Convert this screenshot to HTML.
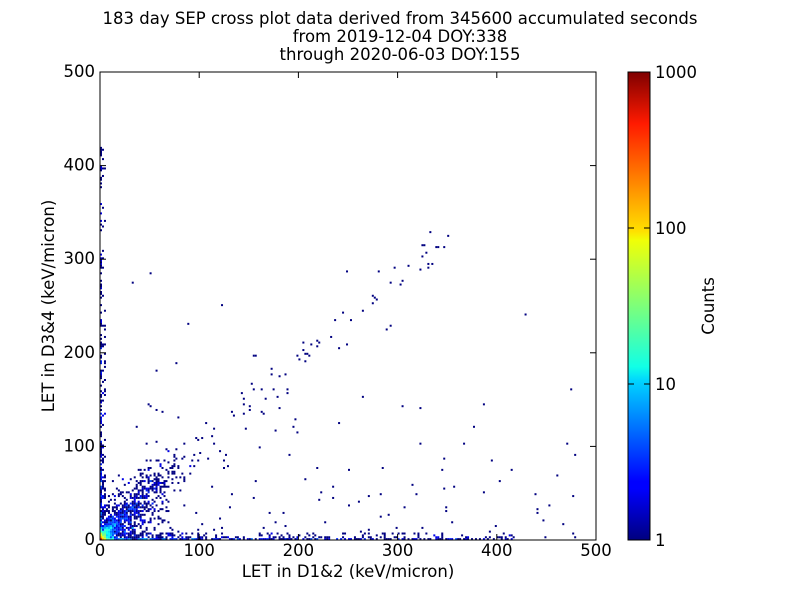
<!DOCTYPE html>
<html><head><meta charset="utf-8"><style>
body{margin:0;background:#fff;width:800px;height:600px;overflow:hidden}
svg text{font-family:"DejaVu Sans","Liberation Sans",sans-serif}
</style></head><body>
<svg id="s" width="800" height="600" xmlns="http://www.w3.org/2000/svg">
<defs><linearGradient id="jet" x1="0" y1="1" x2="0" y2="0">
<stop offset="0" stop-color="#00007f"/><stop offset="0.11" stop-color="#0000ff"/><stop offset="0.125" stop-color="#0000ff"/><stop offset="0.34" stop-color="#00d4ff"/><stop offset="0.37" stop-color="#11ffe6"/><stop offset="0.5" stop-color="#7dff7a"/><stop offset="0.64" stop-color="#f0ff07"/><stop offset="0.66" stop-color="#ffe000"/><stop offset="0.89" stop-color="#ff1a00"/><stop offset="1" stop-color="#7f0000"/></linearGradient></defs>
<text x="400" y="24" font-size="16.5" text-anchor="middle">183 day SEP cross plot data derived from 345600 accumulated seconds</text>
<text x="400" y="42" font-size="16.5" text-anchor="middle">from 2019-12-04 DOY:338</text>
<text x="400" y="60" font-size="16.5" text-anchor="middle">through 2020-06-03 DOY:155</text>
<g id="pts"></g>
<rect x="100" y="72" width="496" height="468" fill="none" stroke="#000" stroke-width="1"/>
<g id="ax" font-size="16.5"></g>
<text x="348" y="577" font-size="16.5" text-anchor="middle">LET in D1&amp;2 (keV/micron)</text>
<text transform="translate(54,306) rotate(-90)" font-size="16.5" text-anchor="middle">LET in D3&amp;4 (keV/micron)</text>
<rect x="628" y="72" width="22" height="468" fill="url(#jet)" stroke="#000"/>
<g font-size="16.5">
<text x="655" y="78">1000</text><text x="655" y="234">100</text><text x="655" y="390">10</text><text x="655" y="546">1</text>
<line x1="644" y1="228" x2="650" y2="228" stroke="#000"/><line x1="644" y1="384" x2="650" y2="384" stroke="#000"/>
<line x1="628" y1="228" x2="634" y2="228" stroke="#000"/><line x1="628" y1="384" x2="634" y2="384" stroke="#000"/>
</g>
<text transform="translate(714,306) rotate(-90)" font-size="16.5" text-anchor="middle">Counts</text>
</svg>
<script>
var ns="http://www.w3.org/2000/svg",ax=document.getElementById('ax'),pts=document.getElementById('pts');
function el(t,a,p){var e=document.createElementNS(ns,t);for(var k in a)if(k!='txt')e.setAttribute(k,a[k]);if(a.txt!==undefined)e.textContent=a.txt;p.appendChild(e);return e;}
for(var v=0;v<=500;v+=100){var x=100+v*0.992,y=540-v*0.936;
el('line',{x1:x,y1:540,x2:x,y2:534,stroke:'#000'},ax);el('line',{x1:x,y1:72,x2:x,y2:78,stroke:'#000'},ax);
el('line',{x1:100,y1:y,x2:106,y2:y,stroke:'#000'},ax);el('line',{x1:596,y1:y,x2:590,y2:y,stroke:'#000'},ax);
el('text',{x:x,y:556,'text-anchor':'middle',txt:v},ax);el('text',{x:95,y:y+5,'text-anchor':'end',txt:v},ax);}
var seed=11;function r(){seed=(seed*16807)%2147483647;return seed/2147483647;}
function jet(t){var f=function(x){return Math.max(0,Math.min(1,x));};var R=f(1.5-Math.abs(4*t-3)),G=f(1.5-Math.abs(4*t-2)),B=f(1.5-Math.abs(4*t-1));return 'rgb('+Math.round(R*255)+','+Math.round(G*255)+','+Math.round(B*255)+')';}
var cells={};function add(X,Y,c){if(X<0||Y<0||X>495||Y>498)return;var k=Math.floor(X/2)+','+Math.floor(Y/2);cells[k]=(cells[k]||0)+c;}
var i;
for(i=0;i<900;i++){var a=Math.pow(r(),1.8)*45;add(a*(0.3+r()*1.4),a*(0.3+r()*1.4),1);}
for(i=0;i<450;i++){var a=Math.pow(r(),1.6)*80;add(a*(0.7+r()*0.6),a*(0.7+r()*0.6)+r()*6,1);}
for(i=0;i<700;i++){add(Math.pow(r(),3)*420,Math.pow(r(),3)*8,1);}
for(i=0;i<450;i++){add(Math.pow(r(),3)*6,Math.pow(r(),3.5)*420,1);}
for(i=0;i<300;i++){add(Math.pow(r(),2)*14,Math.pow(r(),2)*14,1);}
for(i=0;i<70;i++){var a=100+r()*250;add(a+r()*30-15,a*0.93+r()*30-15,1);}
for(i=0;i<120;i++){add(r()*480,r()*480*r()*r(),1);}
for(i=0;i<40;i++){add(r()*200,r()*200,1);}
add(1,1,150);add(3,1,40);add(1,3,30);add(3,3,12);add(5,1,8);add(1,5,8);add(5,3,5);add(3,5,5);add(7,1,4);add(1,7,4);add(5,5,3);
for(var k in cells){var p=k.split(','),c=cells[k],t=Math.log(c)/Math.log(1000);t=Math.min(1,t);
el('rect',{x:100+p[0]*2*0.992,y:540-(+p[1]+1)*2*0.936,width:2,height:2,fill:jet(t)},pts);}
</script>
</body></html>
